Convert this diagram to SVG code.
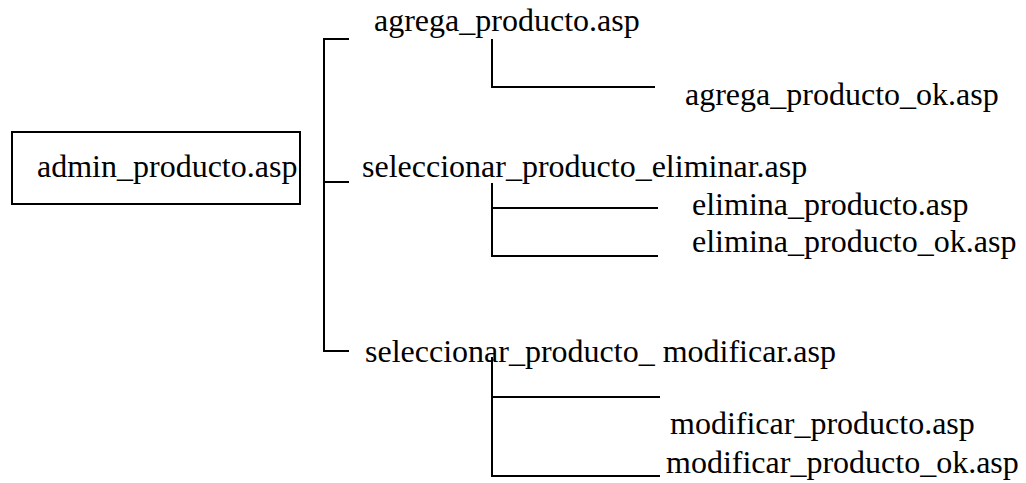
<svg xmlns="http://www.w3.org/2000/svg" width="1026" height="483" viewBox="0 0 1026 483">
<style>
text{font-family:"Liberation Serif","Times New Roman",serif;font-size:32px;fill:#000}
.ln{fill:none;stroke:#000;stroke-width:2}
</style>
<rect width="1026" height="483" fill="#fff"/>
<g id="connectors">
<path class="ln" d="M349,39 H324 V351 H349"/>
<path class="ln" d="M324,182 H349"/>
<path class="ln" d="M492,39 V87 H655"/>
<path class="ln" d="M492,183 V256 H658 M492,208 H658"/>
<path class="ln" d="M492,357 V476 H660 M492,397 H660"/>
</g>
<g id="admin_producto"><rect class="ln" x="12" y="132" width="288" height="72"/><text x="37" y="177">admin_producto.asp</text></g>
<g id="agrega_producto"><text x="374" y="31">agrega_producto.asp</text></g>
<g id="agrega_producto_ok"><text x="685" y="105">agrega_producto_ok.asp</text></g>
<g id="seleccionar_producto_eliminar"><text x="362" y="177">seleccionar_producto_eliminar.asp</text></g>
<g id="elimina_producto"><text x="692" y="215">elimina_producto.asp</text></g>
<g id="elimina_producto_ok"><text x="692" y="252">elimina_producto_ok.asp</text></g>
<g id="seleccionar_producto_modificar"><text x="365" y="362">seleccionar_producto_ modificar.asp</text></g>
<g id="modificar_producto"><text x="670" y="434">modificar_producto.asp</text></g>
<g id="modificar_producto_ok"><text x="666" y="473">modificar_producto_ok.asp</text></g>
</svg>
